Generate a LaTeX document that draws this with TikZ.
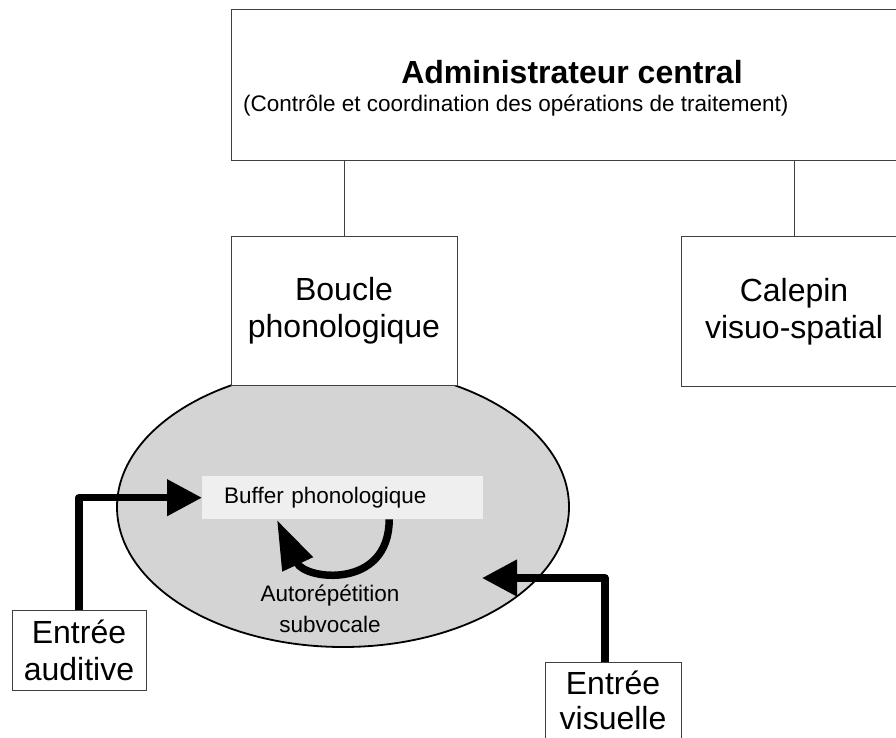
\documentclass[tikz,border=0pt]{standalone}
\usepackage{fontspec}
\setmainfont{Liberation Sans}
\usetikzlibrary{shapes.geometric,arrows.meta}
\definecolor{loopfill}{HTML}{D4D4D4}
\definecolor{bufferfill}{HTML}{EFEFEF}
\newcommand{\bigtext}{\fontsize{32}{37}\selectfont}
\newcommand{\smalltext}{\fontsize{22.5}{31}\selectfont}

\begin{document}
\begin{tikzpicture}[x=1pt, y=-1pt,
    box/.style={draw=black!75, line width=1pt, fill=white, inner sep=0pt},
    link/.style={draw=black!75, line width=1pt},
    flow/.style={line width=7.5pt, line join=round, -{Triangle[length=35pt,width=35pt]}}]
    \useasboundingbox (0,0) rectangle (896,737);

    \node[draw, ellipse, line width=1.8pt, fill=loopfill, minimum width=452pt,
          minimum height=280pt] (loop) at (343,507) {};

    \node[box, minimum width=682pt, minimum height=151pt] (admin) at (572,84.5) {};
    \node[anchor=base, inner sep=0pt, font=\bigtext\bfseries] (admintitle) at (572,83)
            {Administrateur central};
    \node[anchor=base west, inner sep=0pt, font=\smalltext] (adminsub) at (243,111)
            {(Contrôle et coordination des opérations de traitement)};

    \node[box, align=center, font=\bigtext, minimum width=226pt, minimum height=149pt]
            (boucle) at (344,311) {Boucle\\phonologique};
    \node[box, align=center, font=\bigtext, minimum width=226pt, minimum height=150pt]
            (calepin) at (794,311.5) {Calepin\\visuo-spatial};

    \node[fill=bufferfill, anchor=north west, minimum height=43pt, text width=237pt,
          inner xsep=22pt, inner ysep=0pt, font=\smalltext] (buffer) at (202,476)
            {Buffer phonologique};
    \node[align=center, inner sep=0pt, font=\smalltext] (rehearsal) at (330,609)
            {Autorépétition\\subvocale};

    \node[box, align=center, font=\bigtext, minimum width=134pt, minimum height=80pt]
            (auditive) at (79,650) {Entrée\\auditive};
    \node[box, align=center, font=\fontsize{32}{35}\selectfont, minimum width=136pt,
          minimum height=76pt] (visuelle) at (613,700) {Entrée\\visuelle};

    \draw[link] (boucle.north) -- (boucle.north |- admin.south);
    \draw[link] (calepin.north) -- (calepin.north |- admin.south);

    \draw[flow] (auditive.north) |- (buffer.west);
    \coordinate (visualin) at (482,578);
    \draw[flow] ([xshift=-8pt]visuelle.north) |- (visualin);
    \coordinate (loopend) at (277,520);
    \draw[flow, -{Triangle[length=49pt,width=32pt]}] ([xshift=46.5pt]buffer.south)
            .. controls (389,590) and (305,580) .. (loopend);
  \end{tikzpicture}
\end{document}
